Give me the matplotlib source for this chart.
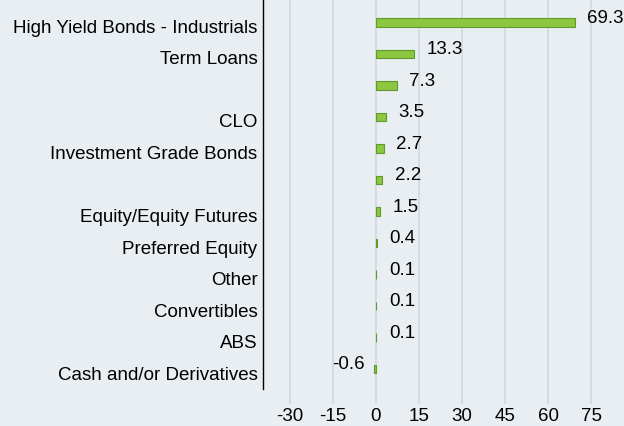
import matplotlib.pyplot as plt
import matplotlib.transforms as mtransforms
import numpy as np

# Data
categories = ['High Yield Bonds - Industrials', 'Term Loans', '', 'CLO',
              'Investment Grade Bonds', '', 'Equity/Equity Futures',
              'Preferred Equity', 'Other', 'Convertibles', 'ABS',
              'Cash and/or Derivatives']
values = [69.3, 13.3, 7.3, 3.5, 2.7, 2.2, 1.5, 0.4, 0.1, 0.1, 0.1, -0.6]
xticks = [-30, -15, 0, 15, 30, 45, 60, 75]

bg = '#e9eef2'
plt.rcParams['font.family'] = ['Liberation Sans', 'DejaVu Sans']

fig = plt.figure(figsize=(6.24, 4.26), dpi=100, facecolor=bg)
ax = fig.add_axes([263 / 624, 37 / 426, 361 / 624, 389 / 426], facecolor=bg)

y = np.arange(len(values))[::-1]
ax.barh(y, values, height=0.27, color='#8dc63f', edgecolor='#5e9a2c',
        linewidth=0.8, zorder=3)

ax.tick_params(axis='y', length=0, pad=4, labelsize=13.5)
ax.tick_params(axis='x', length=11, color='#d3d8dc', width=1.2, pad=3, labelsize=13.5)

ax.set_xlim(-39.4, 86.5)
ax.set_ylim(-0.63, 11.71)
ax.set_xticks(xticks)
ax.set_xticklabels([str(t) for t in xticks])
ax.set_yticks(y)
ax.set_yticklabels(categories)

# nudge category labels a bit below bar centres
offset = mtransforms.ScaledTranslation(0, -4 / 100, fig.dpi_scale_trans)
for lbl in ax.get_yticklabels():
    lbl.set_transform(lbl.get_transform() + offset)

ax.grid(axis='x', color='#d3d8dc', linewidth=1.2, zorder=0)

for s in ['top', 'right', 'bottom']:
    ax.spines[s].set_visible(False)
ax.spines['left'].set_color('black')
ax.spines['left'].set_linewidth(1.0)

# value labels
for yi, v in zip(y, values):
    if v >= 0:
        ax.annotate(f'{v:.1f}', (v, yi), xytext=(9, 3), textcoords='offset points',
                    ha='left', va='center', fontsize=13.5, zorder=4)
    else:
        ax.annotate(f'{v:.1f}', (v, yi), xytext=(-7, 3), textcoords='offset points',
                    ha='right', va='center', fontsize=13.5, zorder=4)

plt.savefig('out.png', dpi=100, facecolor=bg)
